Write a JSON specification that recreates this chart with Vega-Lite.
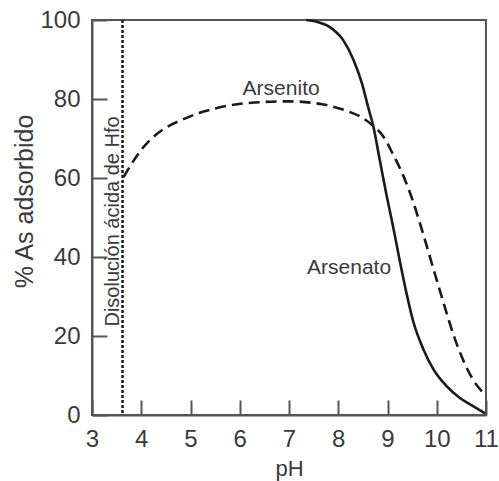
{
  "$schema": "https://vega.github.io/schema/vega-lite/v6.json",
  "autosize": {"type": "none"},
  "padding": {"left": 92, "top": 20, "right": 13, "bottom": 66},
  "width": 394,
  "height": 395,
  "config": {
    "view": {"stroke": "#555555", "strokeWidth": 2},
    "font": "Liberation Sans",
    "axis": {
      "grid": false,
      "domainColor": "#555555",
      "domainWidth": 2,
      "tickColor": "#555555",
      "tickWidth": 2,
      "tickSize": -15,
      "labelFont": "Liberation Sans",
      "labelFontSize": 24,
      "labelColor": "#3a3a3a",
      "titleFont": "Liberation Sans",
      "titleFontWeight": "normal",
      "titleColor": "#3a3a3a"
    }
  },
  "datasets": {
    "curves": [
      {"series": "Arsenito", "pH": 3.64, "v": 60.2},
      {"series": "Arsenito", "pH": 3.81, "v": 63.7},
      {"series": "Arsenito", "pH": 4.01, "v": 67.3},
      {"series": "Arsenito", "pH": 4.21, "v": 70.0},
      {"series": "Arsenito", "pH": 4.48, "v": 72.6},
      {"series": "Arsenito", "pH": 4.82, "v": 74.7},
      {"series": "Arsenito", "pH": 5.16, "v": 76.4},
      {"series": "Arsenito", "pH": 5.50, "v": 77.6},
      {"series": "Arsenito", "pH": 5.84, "v": 78.5},
      {"series": "Arsenito", "pH": 6.3, "v": 79.1},
      {"series": "Arsenito", "pH": 7.0, "v": 79.4},
      {"series": "Arsenito", "pH": 7.70, "v": 78.6},
      {"series": "Arsenito", "pH": 8.17, "v": 77.0},
      {"series": "Arsenito", "pH": 8.44, "v": 75.6},
      {"series": "Arsenito", "pH": 8.71, "v": 73.2},
      {"series": "Arsenito", "pH": 8.91, "v": 70.6},
      {"series": "Arsenito", "pH": 9.12, "v": 65.8},
      {"series": "Arsenito", "pH": 9.32, "v": 60.6},
      {"series": "Arsenito", "pH": 9.52, "v": 54.0},
      {"series": "Arsenito", "pH": 9.73, "v": 45.6},
      {"series": "Arsenito", "pH": 9.93, "v": 37.1},
      {"series": "Arsenito", "pH": 10.13, "v": 28.7},
      {"series": "Arsenito", "pH": 10.34, "v": 20.3},
      {"series": "Arsenito", "pH": 10.54, "v": 13.8},
      {"series": "Arsenito", "pH": 10.74, "v": 8.9},
      {"series": "Arsenito", "pH": 10.98, "v": 5.1},
      {"series": "Arsenato", "pH": 7.35, "v": 100},
      {"series": "Arsenato", "pH": 7.55, "v": 99.6},
      {"series": "Arsenato", "pH": 7.83, "v": 98.2},
      {"series": "Arsenato", "pH": 8.10, "v": 94.9},
      {"series": "Arsenato", "pH": 8.31, "v": 89.9},
      {"series": "Arsenato", "pH": 8.48, "v": 84.0},
      {"series": "Arsenato", "pH": 8.61, "v": 77.8},
      {"series": "Arsenato", "pH": 8.71, "v": 73.2},
      {"series": "Arsenato", "pH": 8.85, "v": 64.1},
      {"series": "Arsenato", "pH": 8.98, "v": 55.7},
      {"series": "Arsenato", "pH": 9.12, "v": 47.3},
      {"series": "Arsenato", "pH": 9.25, "v": 39.0},
      {"series": "Arsenato", "pH": 9.39, "v": 30.6},
      {"series": "Arsenato", "pH": 9.52, "v": 23.8},
      {"series": "Arsenato", "pH": 9.73, "v": 16.6},
      {"series": "Arsenato", "pH": 9.93, "v": 11.6},
      {"series": "Arsenato", "pH": 10.2, "v": 7.3},
      {"series": "Arsenato", "pH": 10.47, "v": 4.3},
      {"series": "Arsenato", "pH": 10.72, "v": 2.4},
      {"series": "Arsenato", "pH": 10.98, "v": 0.4}
    ],
    "labels": [
      {"pH": 6.84, "v": 81.0, "label": "Arsenito"},
      {"pH": 8.22, "v": 35.7, "label": "Arsenato"}
    ],
    "vlabel": [
      {"pH": 3.548, "v": 49, "label": "Disolución ácida de Hfo"}
    ],
    "rule": [{"pH": 3.62}]
  },
  "layer": [
    {
      "data": {"name": "rule"},
      "mark": {"type": "rule", "color": "#1a1a1a", "strokeWidth": 2.5, "strokeDash": [3, 2]},
      "encoding": {
        "x": {"field": "pH", "type": "quantitative"}
      }
    },
    {
      "data": {"name": "curves"},
      "transform": [{"filter": "datum.series === 'Arsenito'"}],
      "mark": {"type": "line", "interpolate": "monotone", "color": "#1a1a1a", "strokeWidth": 2.6, "strokeDash": [11, 6]},
      "encoding": {
        "x": {
          "field": "pH", "type": "quantitative",
          "scale": {"domain": [3, 11], "nice": false, "zero": false},
          "axis": {"values": [3, 4, 5, 6, 7, 8, 9, 10, 11], "title": "pH", "titleFontSize": 22, "labelPadding": 27, "titleBaseline": "alphabetic", "titleY": 60, "labelFlush": false}
        },
        "y": {
          "field": "v", "type": "quantitative",
          "scale": {"domain": [0, 100], "nice": false},
          "axis": {"values": [0, 20, 40, 60, 80, 100], "title": "% As adsorbido", "titleFontSize": 25, "labelPadding": 27, "titleBaseline": "alphabetic", "titleX": -60, "titleY": 181, "titleAlign": "center", "titleAngle": 270, "labelFlush": false}
        }
      }
    },
    {
      "data": {"name": "curves"},
      "transform": [{"filter": "datum.series === 'Arsenato'"}],
      "mark": {"type": "line", "interpolate": "monotone", "color": "#1a1a1a", "strokeWidth": 2.6},
      "encoding": {
        "x": {"field": "pH", "type": "quantitative"},
        "y": {"field": "v", "type": "quantitative"}
      }
    },
    {
      "data": {"name": "labels"},
      "mark": {"type": "text", "fontSize": 21, "font": "Liberation Sans", "color": "#3a3a3a", "align": "center", "baseline": "alphabetic"},
      "encoding": {
        "x": {"field": "pH", "type": "quantitative"},
        "y": {"field": "v", "type": "quantitative"},
        "text": {"field": "label"}
      }
    },
    {
      "data": {"name": "vlabel"},
      "mark": {"type": "text", "fontSize": 20, "font": "Liberation Sans", "color": "#3a3a3a", "align": "center", "baseline": "alphabetic", "angle": 270},
      "encoding": {
        "x": {"field": "pH", "type": "quantitative"},
        "y": {"field": "v", "type": "quantitative"},
        "text": {"field": "label"}
      }
    }
  ]
}
